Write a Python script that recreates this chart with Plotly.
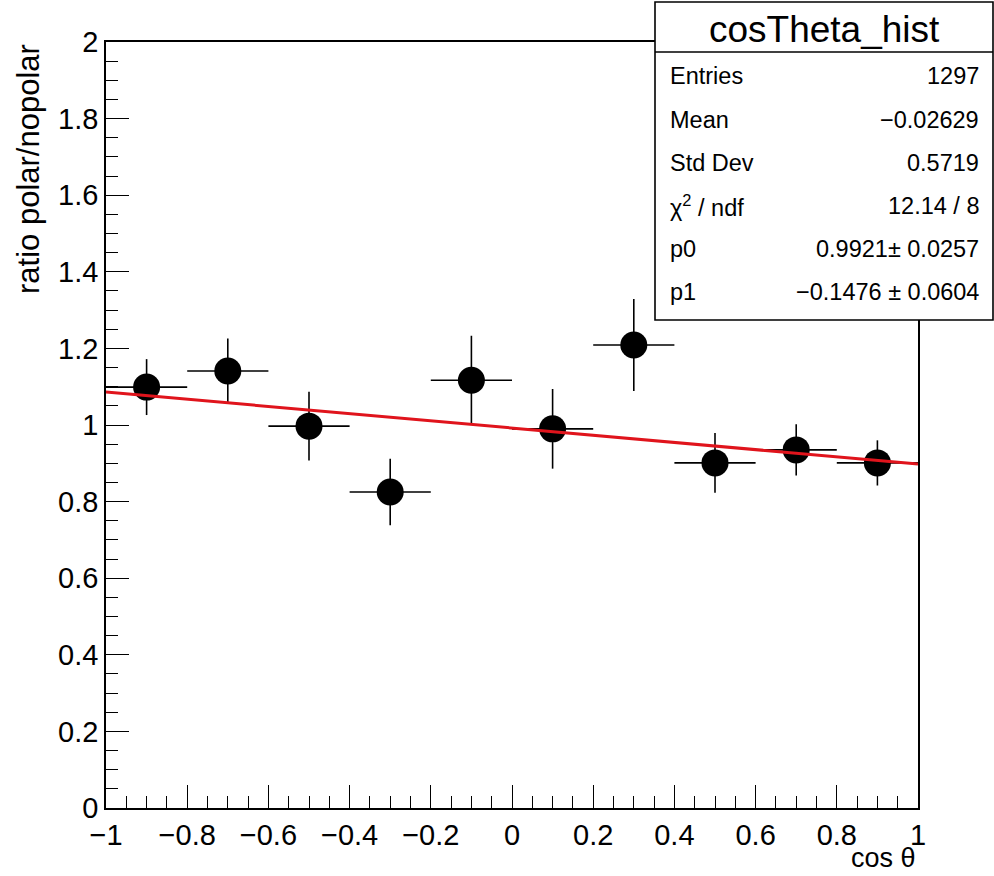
import plotly.graph_objects as go
import numpy as np

# Ratio of cos(theta) distributions, polarised / unpolarised, 10 bins on [-1, 1]
bin_centers = [-0.9, -0.7, -0.5, -0.3, -0.1, 0.1, 0.3, 0.5, 0.7, 0.9]
bin_half_width = [0.1] * 10
ratio = [1.099, 1.141, 0.997, 0.825, 1.117, 0.990, 1.209, 0.901, 0.935, 0.901]
ratio_err = [0.073, 0.085, 0.090, 0.087, 0.116, 0.104, 0.120, 0.078, 0.067, 0.059]

# Fit result: f(x) = p0 * (1 + alpha * p1 * x)
p0 = 0.9921
p1 = -0.1476
alpha = 0.642

stats_title = "cosTheta_hist"
stats_labels = ["Entries", "Mean", "Std Dev", "χ<sup>2</sup> / ndf", "p0", "p1"]
stats_values = ["1297", "\u22120.02629", "0.5719", "12.14 / 8",
                "0.9921\u00b1 0.0257", "\u22120.1476 \u00b1 0.0604"]

x_title = "cos \u03b8"
y_title = "ratio polar/nopolar"

W, H = 994, 876
L, R, T, B = 106, 918, 42, 808
FONT = "Liberation Sans, Arial, Helvetica, sans-serif"


def px(x):
    return (x - L) / (R - L)


def py(y):
    return (B - y) / (B - T)


fit_x = np.linspace(-1, 1, 201)
fit_y = p0 * (1 + alpha * p1 * fit_x)

fig = go.Figure()
fig.add_trace(go.Scatter(
    x=bin_centers, y=ratio, mode="markers",
    marker=dict(color="black", size=27),
    error_x=dict(type="data", array=bin_half_width, width=0, thickness=1.6, color="black"),
    error_y=dict(type="data", array=ratio_err, width=0, thickness=1.6, color="black"),
    showlegend=False, hoverinfo="skip",
))
fig.add_trace(go.Scatter(
    x=fit_x, y=fit_y, mode="lines",
    line=dict(color="#e0141c", width=3),
    showlegend=False, hoverinfo="skip",
))

axis_common = dict(
    showgrid=False, zeroline=False,
    showline=True, linecolor="black", linewidth=1.5, mirror=True,
    ticks="inside", ticklen=23, tickwidth=1.3, tickcolor="black",
    tickfont=dict(family=FONT, size=29, color="black"),
)

fig.update_layout(
    width=W, height=H,
    margin=dict(l=L, r=W - R, t=T, b=H - B),
    paper_bgcolor="white", plot_bgcolor="white",
    xaxis=dict(range=[-1, 1], dtick=0.2, tick0=-1,
               minor=dict(ticks="inside", ticklen=12, tickwidth=1.2, tickcolor="black", dtick=0.05),
               **axis_common),
    yaxis=dict(range=[0, 2], dtick=0.2, tick0=0,
               minor=dict(ticks="inside", ticklen=12, tickwidth=1.2, tickcolor="black", dtick=0.05),
               **axis_common),
)

# Axis titles, ROOT style: placed at the far ends of the axes
fig.add_annotation(text=x_title, xref="paper", yref="paper",
                   x=1, y=py(875), xanchor="right", yanchor="bottom",
                   showarrow=False, font=dict(family=FONT, size=27, color="black"))
fig.add_annotation(text=y_title, xref="paper", yref="paper",
                   x=px(28), y=1, xanchor="center", yanchor="top", textangle=-90,
                   showarrow=False, font=dict(family=FONT, size=31, color="black"))

# Statistics box
bx0, bx1, by0, by1, sep = 655, 993, 2, 320, 52
fig.add_shape(type="rect", xref="paper", yref="paper",
              x0=px(bx0), x1=px(bx1), y0=py(by1), y1=py(by0),
              line=dict(color="black", width=1.6), fillcolor="white", layer="above")
fig.add_shape(type="line", xref="paper", yref="paper",
              x0=px(bx0), x1=px(bx1), y0=py(sep), y1=py(sep),
              line=dict(color="black", width=1.6), layer="above")
fig.add_annotation(text=stats_title, xref="paper", yref="paper",
                   x=px((bx0 + bx1) / 2), y=py((by0 + sep) / 2 + 2),
                   xanchor="center", yanchor="middle", showarrow=False,
                   font=dict(family=FONT, size=37, color="black"))
row_y = [76, 120, 163, 206, 249, 292]
for lab, val, yy in zip(stats_labels, stats_values, row_y):
    fig.add_annotation(text=lab, xref="paper", yref="paper",
                       x=px(668), y=py(yy), xanchor="left", yanchor="middle",
                       showarrow=False, font=dict(family=FONT, size=23.5, color="black"))
    fig.add_annotation(text=val, xref="paper", yref="paper",
                       x=px(981), y=py(yy), xanchor="right", yanchor="middle",
                       showarrow=False, font=dict(family=FONT, size=23.5, color="black"))

fig.write_html("out.html")
